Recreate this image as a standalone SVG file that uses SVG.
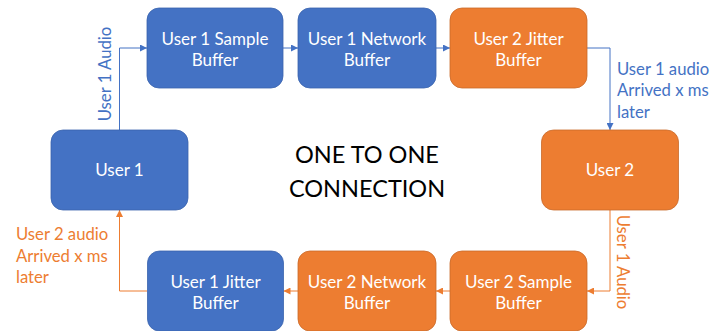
<svg xmlns="http://www.w3.org/2000/svg" width="722" height="331" viewBox="0 0 722 331">
  <style>
    .blue rect { fill: #4472C4; stroke: #3A63AD; stroke-width: 0.8; }
    .orange rect { fill: #ED7D31; stroke: #C96A29; stroke-width: 0.8; }
    .node text { font-family: Lato, "Open Sans", sans-serif; font-size: 17px; fill: #FFFFFF; text-anchor: middle; }
    .title { font-family: Lato, "Open Sans", sans-serif; font-size: 23.5px; fill: #000000; text-anchor: middle; }
    .lbl { font-family: Lato, "Open Sans", sans-serif; font-size: 16.7px; }
    .lbl-b { fill: #4472C4; }
    .lbl-o { fill: #ED7D31; }
    .wire-b { fill: none; stroke: #4472C4; stroke-width: 1; marker-end: url(#arrow-b); }
    .wire-o { fill: none; stroke: #ED7D31; stroke-width: 1; marker-end: url(#arrow-o); }
  </style>
  <defs>
    <marker id="arrow-b" viewBox="0 0 10 10" refX="10" refY="5" markerWidth="7" markerHeight="7" orient="auto" markerUnits="userSpaceOnUse">
      <path d="M0,0 L10,5 L0,10 z" fill="#4472C4"/>
    </marker>
    <marker id="arrow-o" viewBox="0 0 10 10" refX="10" refY="5" markerWidth="7" markerHeight="7" orient="auto" markerUnits="userSpaceOnUse">
      <path d="M0,0 L10,5 L0,10 z" fill="#ED7D31"/>
    </marker>
  </defs>

  <!-- connectors -->
  <g id="connectors">
    <path class="wire-b" d="M119.5,130 V48 H147"/>
    <path class="wire-b" d="M283,48 H298"/>
    <path class="wire-b" d="M436,48 H450"/>
    <path class="wire-b" d="M587,48 H610 V130"/>
    <path class="wire-o" d="M610,210 V291 H587"/>
    <path class="wire-o" d="M450,291 H436"/>
    <path class="wire-o" d="M298,291 H283.5"/>
    <path class="wire-o" d="M147,291 H119.5 V210"/>
  </g>

  <!-- connector labels -->
  <g id="labels">
    <text class="lbl lbl-b" transform="translate(110.5,74) rotate(-90)" text-anchor="middle">User 1 Audio</text>
    <text class="lbl lbl-b" x="617" y="74.5">User 1 audio</text>
    <text class="lbl lbl-b" x="617" y="96">Arrived x ms</text>
    <text class="lbl lbl-b" x="617" y="117.5">later</text>
    <text class="lbl lbl-o" transform="translate(617,262) rotate(90)" text-anchor="middle">User 1 Audio</text>
    <text class="lbl lbl-o" x="16" y="240">User 2 audio</text>
    <text class="lbl lbl-o" x="16" y="261.5">Arrived x ms</text>
    <text class="lbl lbl-o" x="16" y="283">later</text>
  </g>

  <!-- top row -->
  <g id="user1-sample-buffer" class="node blue">
    <rect x="147" y="8" width="136" height="80" rx="12"/>
    <text x="215" y="44.5">User 1 Sample</text>
    <text x="215" y="65.5">Buffer</text>
  </g>
  <g id="user1-network-buffer" class="node blue">
    <rect x="298" y="8" width="138" height="80" rx="12"/>
    <text x="367" y="44.5">User 1 Network</text>
    <text x="367" y="65.5">Buffer</text>
  </g>
  <g id="user2-jitter-buffer" class="node orange">
    <rect x="450" y="8" width="137" height="80" rx="12"/>
    <text x="518.5" y="44.5">User 2 Jitter</text>
    <text x="518.5" y="65.5">Buffer</text>
  </g>

  <!-- middle row -->
  <g id="user1" class="node blue">
    <rect x="51" y="130" width="137" height="80" rx="12"/>
    <text x="119.5" y="176">User 1</text>
  </g>
  <g id="user2" class="node orange">
    <rect x="541.5" y="130" width="137" height="80" rx="12"/>
    <text x="610" y="176">User 2</text>
  </g>

  <text class="title" x="367" y="163">ONE TO ONE</text>
  <text class="title" x="367" y="197">CONNECTION</text>

  <!-- bottom row -->
  <g id="user2-sample-buffer" class="node orange">
    <rect x="450" y="251" width="137" height="80" rx="12"/>
    <text x="518.5" y="287.5">User 2 Sample</text>
    <text x="518.5" y="308.5">Buffer</text>
  </g>
  <g id="user2-network-buffer" class="node orange">
    <rect x="298" y="251" width="138" height="80" rx="12"/>
    <text x="367" y="287.5">User 2 Network</text>
    <text x="367" y="308.5">Buffer</text>
  </g>
  <g id="user1-jitter-buffer" class="node blue">
    <rect x="147.5" y="251" width="136" height="80" rx="12"/>
    <text x="215.5" y="287.5">User 1 Jitter</text>
    <text x="215.5" y="308.5">Buffer</text>
  </g>
</svg>
